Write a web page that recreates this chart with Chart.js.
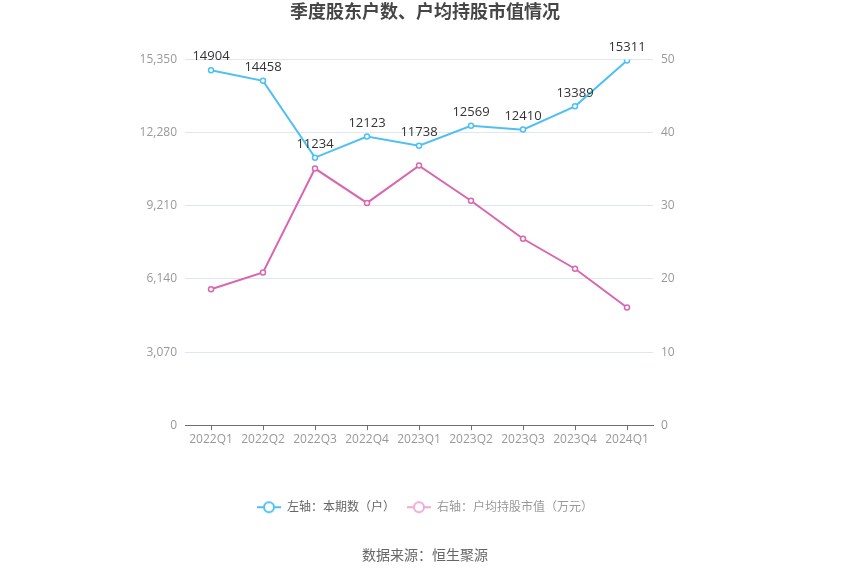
<!DOCTYPE html>
<html>
<head>
<meta charset="utf-8">
<script src="https://cdn.jsdelivr.net/npm/chart.js@4/dist/chart.umd.min.js"></script>
<style>
  body { margin: 0; background: #fff; }
  #wrap { width: 850px; height: 575px; }
</style>
</head>
<body>
<div id="wrap"><canvas id="chart"></canvas></div>
<script>
  const quarters = ['2022Q1', '2022Q2', '2022Q3', '2022Q4', '2023Q1', '2023Q2', '2023Q3', '2023Q4', '2024Q1'];
  const holders = [14904, 14458, 11234, 12123, 11738, 12569, 12410, 13389, 15311];
  const avgValue = [18.6, 20.9, 35.1, 30.4, 35.5, 30.7, 25.5, 21.4, 16.1];
  const leftTicks = [0, 3070, 6140, 9210, 12280, 15350];
  const rightTicks = [0, 10, 20, 30, 40, 50];

  const fontFamily = '"Open Sans", "Noto Sans CJK SC", sans-serif';
  const blue = '#4fc0f5';
  const pink = '#d967b0';

  function legendIcon(color) {
    let c = document.createElement('canvas');
    c.width = 24; c.height = 14;
    let ctx = c.getContext('2d');
    ctx.strokeStyle = color;
    ctx.lineWidth = 2;
    ctx.beginPath();
    ctx.moveTo(0, 7); ctx.lineTo(24, 7);
    ctx.stroke();
    ctx.fillStyle = '#fff';
    ctx.beginPath();
    ctx.arc(12, 7, 5, 0, Math.PI * 2);
    ctx.fill();
    ctx.stroke();
    return c;
  }

  // numbers above the blue line
  const pointLabels = {
    id: 'pointLabels',
    afterDatasetsDraw(chart) {
      let ctx = chart.ctx;
      let meta = chart.getDatasetMeta(0);
      ctx.save();
      ctx.font = '13px ' + fontFamily;
      ctx.fillStyle = '#333';
      ctx.textAlign = 'center';
      ctx.textBaseline = 'bottom';
      meta.data.forEach(function (pt, i) {
        ctx.fillText(String(holders[i]), pt.x, pt.y - 7);
      });
      ctx.restore();
    }
  };

  new Chart(document.getElementById('chart'), {
    type: 'line',
    data: {
      labels: quarters,
      datasets: [{
        label: '左轴：本期数（户）',
        data: holders,
        yAxisID: 'y',
        borderColor: blue,
        backgroundColor: '#fff',
        borderWidth: 2,
        pointRadius: 2.5,
        pointBorderWidth: 1.5,
        pointBorderColor: blue,
        pointBackgroundColor: '#fff',
        tension: 0
      }, {
        label: '右轴：户均持股市值（万元）',
        data: avgValue,
        yAxisID: 'y1',
        borderColor: pink,
        backgroundColor: '#fff',
        borderWidth: 2,
        pointRadius: 2.5,
        pointBorderWidth: 1.5,
        pointBorderColor: pink,
        pointBackgroundColor: '#fff',
        tension: 0
      }]
    },
    options: {
      responsive: true,
      maintainAspectRatio: false,
      animation: false,
      layout: { padding: { left: 136, right: 136, top: 0, bottom: 11 } },
      plugins: {
        title: {
          display: true,
          text: '季度股东户数、户均持股市值情况',
          color: '#464646',
          font: { family: fontFamily, size: 18, weight: 'bold' },
          padding: { top: 2, bottom: 36 }
        },
        subtitle: {
          display: true,
          position: 'bottom',
          text: '数据来源：恒生聚源',
          color: '#666',
          font: { family: fontFamily, size: 14 },
          padding: { top: 24, bottom: 0 }
        },
        legend: {
          position: 'bottom',
          labels: {
            usePointStyle: true,
            pointStyleWidth: 24,
            padding: 12,
            font: { family: fontFamily, size: 12 },
            generateLabels: function (chart) {
              return [
                { text: '左轴：本期数（户）', pointStyle: legendIcon(blue), fontColor: '#666', datasetIndex: 0, hidden: false, lineWidth: 0 },
                { text: '右轴：户均持股市值（万元）', pointStyle: legendIcon('#eeaad5'), fontColor: '#999', datasetIndex: 1, hidden: false, lineWidth: 0 }
              ];
            }
          }
        },
        tooltip: { enabled: false }
      },
      scales: {
        x: {
          offset: true,
          grid: { display: true, drawOnChartArea: false, drawTicks: true, tickLength: 5, color: '#6e7079', offset: false },
          border: { display: true, color: '#6e7079' },
          ticks: { color: '#999', font: { family: fontFamily, size: 12 }, padding: 2, maxRotation: 0, autoSkip: false },
          afterFit: function (scale) { scale.height = 64; }
        },
        y: {
          position: 'left',
          min: 0,
          max: 15350,
          afterBuildTicks: function (scale) { scale.ticks = leftTicks.map(v => ({ value: v })); },
          ticks: {
            color: '#999',
            font: { family: fontFamily, size: 12 },
            padding: 8,
            callback: function (v) { return v.toLocaleString('en-US'); }
          },
          grid: { color: '#e0e6f1', drawTicks: false },
          border: { display: false },
          afterFit: function (scale) { scale.width = 49; }
        },
        y1: {
          position: 'right',
          min: 0,
          max: 50,
          afterBuildTicks: function (scale) { scale.ticks = rightTicks.map(v => ({ value: v })); },
          ticks: { color: '#999', font: { family: fontFamily, size: 12 }, padding: 8 },
          grid: { drawOnChartArea: false, drawTicks: false },
          border: { display: false },
          afterFit: function (scale) { scale.width = 61; }
        }
      }
    },
    plugins: [pointLabels]
  });
</script>
</body>
</html>
